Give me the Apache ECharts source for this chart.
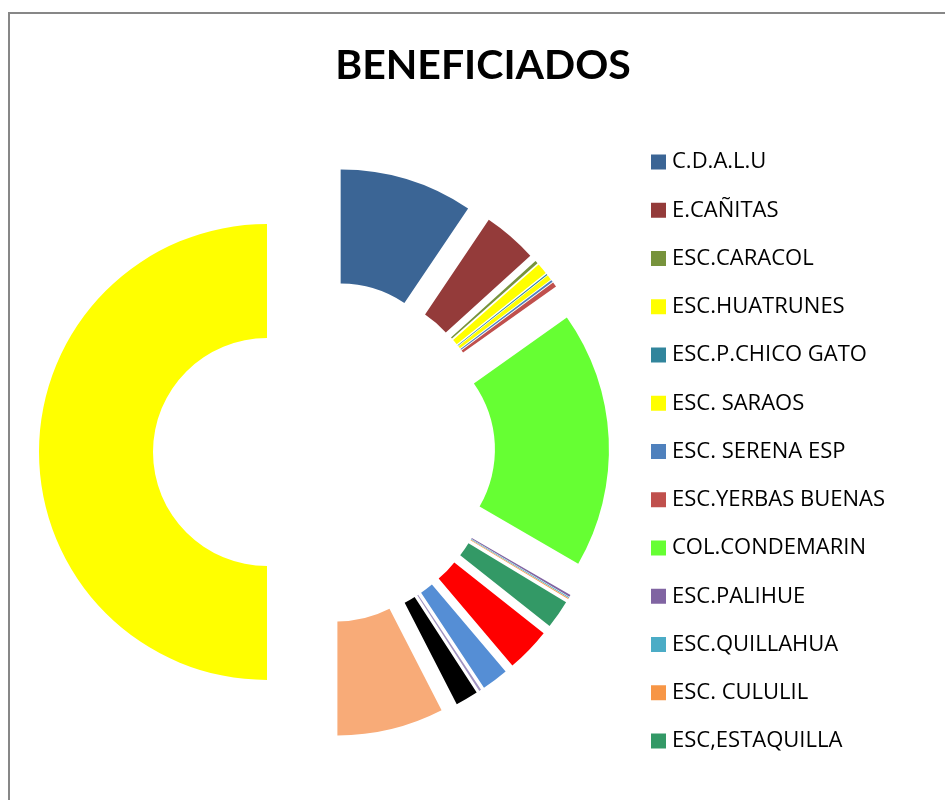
<!DOCTYPE html>
<html>
<head>
<meta charset="utf-8">
<title>BENEFICIADOS</title>
<script src="https://cdn.jsdelivr.net/npm/echarts@6/dist/echarts.min.js"></script>
<style>
  html, body { margin: 0; padding: 0; background: #fff; }
  #chart { width: 945px; height: 800px; }
</style>
</head>
<body>
<div id="chart"></div>
<script>
// Beneficiados por establecimiento
const categories = [
  'C.D.A.L.U', 'E.CAÑITAS', 'ESC.CARACOL', 'ESC.HUATRUNES', 'ESC.P.CHICO GATO',
  'ESC. SARAOS', 'ESC. SERENA ESP', 'ESC.YERBAS BUENAS', 'COL.CONDEMARIN',
  'ESC.PALIHUE', 'ESC.QUILLAHUA', 'ESC. CULULIL', 'ESC,ESTAQUILLA',
  'OTRO 14', 'OTRO 15', 'OTRO 16', 'OTRO 17', 'OTRO 18', 'OTRO 19'
];
const beneficiados = [
  135, 55, 3, 11, 1,
  5, 2, 5, 260,
  2, 1, 1, 29,
  45, 27, 2, 23, 108, 715
];
const colors = [
  '#3B6595', '#943B3A', '#77933C', '#FFFF00', '#31859C',
  '#FFFF00', '#4F81BD', '#C0504D', '#66FF33',
  '#8064A2', '#4BACC6', '#F79646', '#339966',
  '#FF0000', '#558ED5', '#A193C0', '#000000', '#F8AB78', '#FFFF00'
];
// Entries shown in the legend
const legendNames = categories.slice(0, 13);

const chart = echarts.init(document.getElementById('chart'));

const data = categories.map((name, i) => ({
  name: name,
  value: beneficiados[i],
  selected: true,
  itemStyle: { color: colors[i] }
}));

chart.setOption({
  animation: false,
  backgroundColor: '#ffffff',
  graphic: [
    {
      type: 'rect',
      shape: { x: 9, y: 13, width: 1000, height: 1000 },
      style: { fill: 'none', stroke: '#878787', lineWidth: 2 },
      silent: true
    },
    {
      type: 'text',
      x: 483,
      y: 66,
      style: {
        text: 'BENEFICIADOS',
        textAlign: 'center',
        textVerticalAlign: 'middle',
        font: 'bold 41px Lato, sans-serif',
        fill: '#000000'
      },
      silent: true
    }
  ],
  legend: {
    data: legendNames,
    orient: 'vertical',
    left: 651,
    top: 151,
    padding: 0,
    itemWidth: 15,
    itemHeight: 15,
    itemGap: 26.25,
    icon: 'rect',
    selectedMode: false,
    textStyle: {
      fontFamily: 'Open Sans',
      fontSize: 22,
      lineHeight: 22,
      color: '#000000',
      padding: [0, 0, 0, 1]
    }
  },
  series: [
    {
      type: 'pie',
      center: [324, 452],
      radius: [114, 228],
      startAngle: 90,
      clockwise: true,
      selectedMode: 'multiple',
      selectedOffset: 57,
      label: { show: false },
      labelLine: { show: false },
      emphasis: { disabled: true },
      itemStyle: { borderWidth: 0 },
      data: data
    }
  ]
});
</script>
</body>
</html>
